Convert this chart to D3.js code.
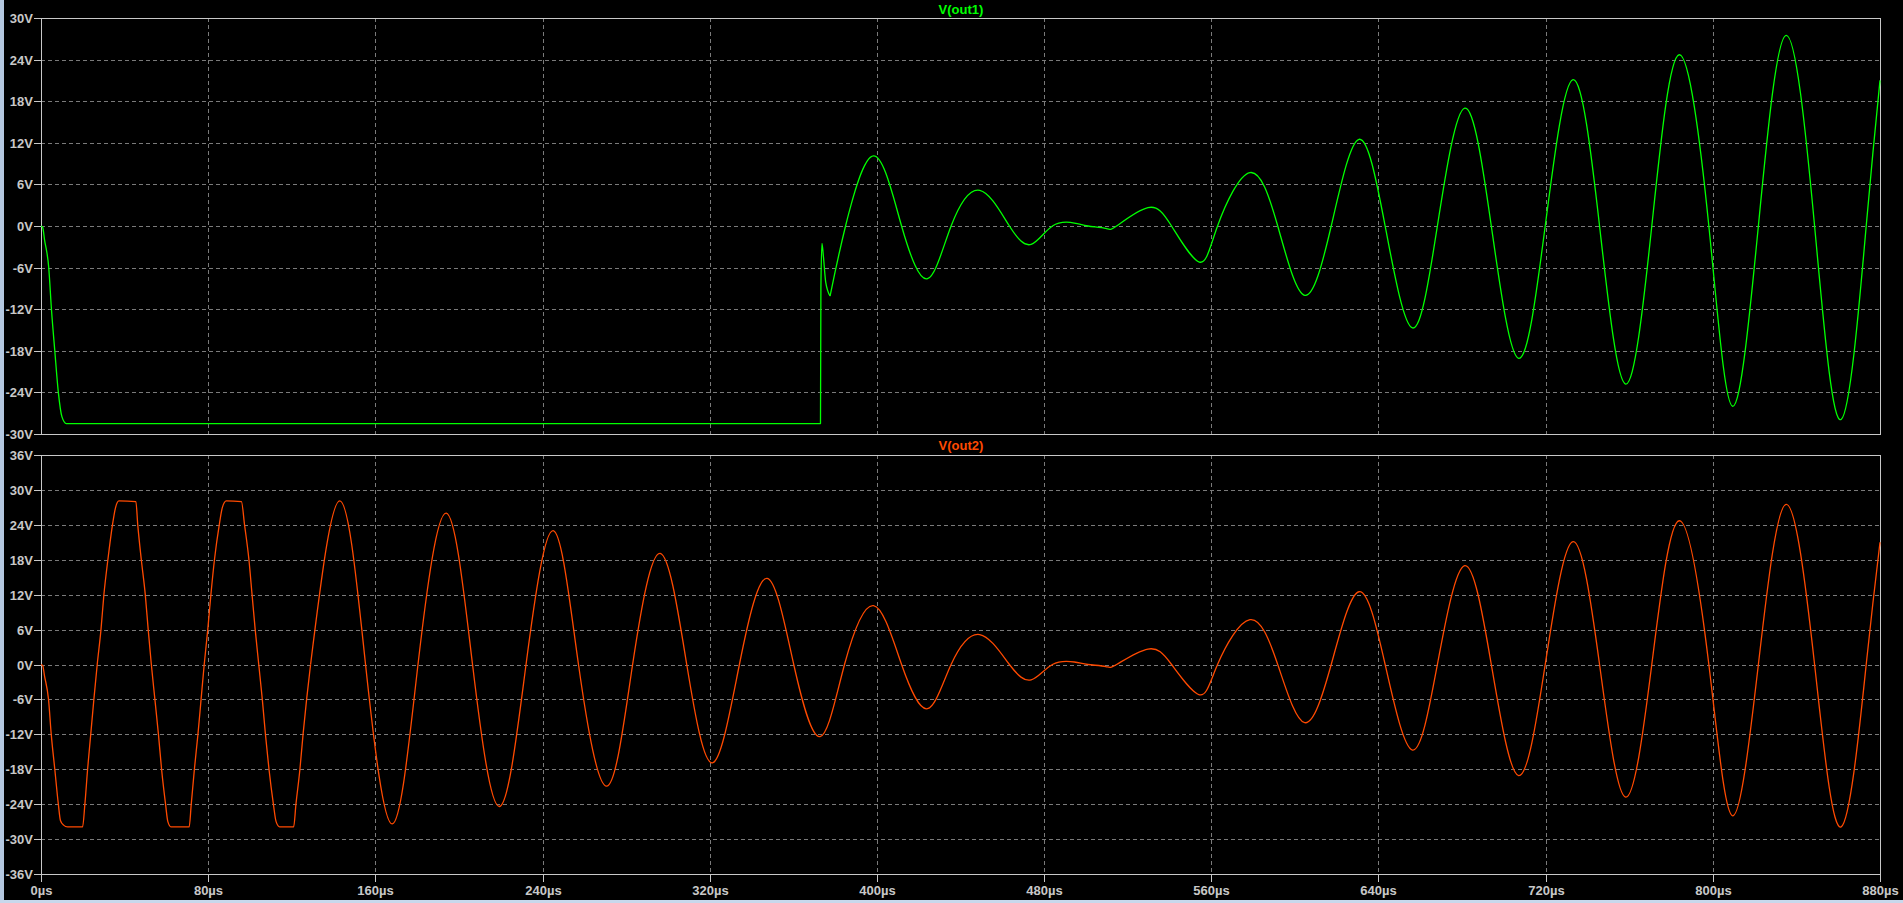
<!DOCTYPE html>
<html><head><meta charset="utf-8">
<script src="https://cdn.jsdelivr.net/npm/d3@7"></script>
<style>html,body{margin:0;padding:0;background:#000;overflow:hidden}</style>
</head><body><svg id="c" width="1903" height="903"></svg>
<script>
// ---- data ----
const timeTicks = [0, 80, 160, 240, 320, 400, 480, 560, 640, 720, 800, 880];
const out1Ticks = [-30, -24, -18, -12, -6, 0, 6, 12, 18, 24, 30];
const out2Ticks = [-36, -30, -24, -18, -12, -6, 0, 6, 12, 18, 24, 30, 36];
const seriesNames = ["V(out1)", "V(out2)"];

// V(out2), clipped start (time µs, volts) – dense samples
const out2ClipTime = [0, 0.8, 1.7, 3.6, 4.9, 6.6, 8.3, 9.3, 10.8, 12.7, 19.9, 21.0, 22.3, 23.8, 25.3, 26.9, 28.7, 30.1, 32.0, 34.2, 35.7, 37.3,
  45.4, 46.3, 48.0, 49.9, 51.3, 52.8, 54.5, 56.2, 57.7, 59.6, 60.7, 62.2, 70.9, 71.9, 73.4, 75.1, 76.6, 78.1, 79.8, 81.3, 83.0, 85.3, 86.8, 88.7,
  95.9, 97.4, 99.5, 101.0, 102.5, 104.2, 105.9, 107.4, 109.1, 111.2, 112.5, 114.2, 120.9, 122.0, 123.9, 125.4, 127.1, 129.0];
const out2ClipVolt = [0, -0.2, -2.0, -6, -12, -18, -24, -26.8, -27.6, -27.9, -27.9, -24, -18, -12, -6, 0, 6, 12, 18, 24, 27.0, 28.1,
  28.0, 24, 18, 12, 6, 0, -6, -12, -18, -24, -27.0, -27.9, -27.9, -24, -18, -12, -6, 0, 6, 12, 18, 24, 27.0, 28.1,
  28.0, 24, 18, 12, 6, 0, -6, -12, -18, -24, -27.0, -27.9, -27.9, -24, -18, -12, -6, 0];

// V(out2), free-running part: extrema and zero crossings
const out2FreeTime = [129.0, 143.0, 155.3, 168.1, 180.4, 193.9, 206.5, 219.4, 232.1, 245.1, 257.2, 270.8, 283.1, 296.3, 309.0, 321.3,
  334.2, 347.5, 360.2, 372.8, 384.5, 398.4, 411.8, 424.2, 435.5, 449.2, 463.4, 473.8, 484.0, 494.5, 501.0, 509.5, 514.7, 529.7,
  541.0, 554.3, 563.0, 578.5, 591.8, 604.7, 617.4, 630.7, 643.2, 656.3, 668.2, 681.3, 694.0, 707.1, 719.8, 733.1, 745.8, 758.3,
  770.8, 783.9, 798.1, 809.5, 821.8, 835.1, 848.7, 861.4, 873.4, 880];
const out2FreeVolt = [0, 28.1, 0, -27.4, 0, 26.0, 0, -24.4, 0, 23.0, 0, -20.9, 0, 19.1, 0, -16.9,
  0, 14.8, 0, -12.4, 0, 10.1, 0, -7.6, 0, 5.15, 0, -2.65, 0, 0.43, 0, -0.35, 0, 2.65,
  0, -5.2, 0, 7.7, 0, -10.0, 0, 12.5, 0, -14.7, 0, 17.0, 0, -19.1, 0, 21.1, 0, -22.8,
  0, 24.7, 0, -26.0, 0, 27.5, 0, -27.9, 0, 21.0];

// V(out1): start-up, hold at -28.5 V, release near 373 µs (dense samples)
const out1HeadTime = [0, 0.8, 1.7, 3.7, 5.0, 6.6, 8.3, 10.0, 12.1, 373.0, 373.2, 373.7, 374.4, 375.5, 377.6];
const out1HeadVolt = [0, -0.2, -2.0, -6, -12, -18, -24, -27.5, -28.5, -28.5, -9.0, -2.5, -4.4, -8.1, -10.1];
// V(out1) after release: first rise, then it coincides with V(out2)
const out1RiseTime = [377.6, 385.0];
const out1RiseVolt = [-10.1, 0];
const out1JoinTime = 395;

// ---- layout ----
const W = 1903, H = 903;
const X0 = 41, X1 = 1880;
const P1 = {top: 18, bottom: 434};
const P2 = {top: 455, bottom: 874};
const AXIS = "#c8c8c8", GRID = "#7a7a7a", TXT = "#c8c8c8";
const GREEN = "#00ff00", ORANGE = "#ff4a00";
const FONT = "'Liberation Sans', Arial, sans-serif";

const svg = d3.select("#c");
svg.append("rect").attr("width", W).attr("height", H).attr("fill", "#000");
svg.append("rect").attr("x", 0).attr("y", 0).attr("width", 4).attr("height", H).attr("fill", "#b4c8e0");
svg.append("rect").attr("x", 0).attr("y", 900).attr("width", W).attr("height", 3).attr("fill", "#c8d8ec");

const x = d3.scaleLinear().domain([0, 880]).range([X0, X1]);
const px = v => Math.round(v) + 0.5;
const zip = (t, v) => t.map((d, i) => [d, v[i]]);

function panel(p, domain, ticks, id) {
  const y = d3.scaleLinear().domain(domain).range([p.bottom, p.top]);
  const g = svg.append("g");
  g.selectAll(".hg").data(ticks.filter(d => d !== domain[0] && d !== domain[1])).enter()
    .append("line").attr("x1", X0).attr("x2", X1)
    .attr("y1", d => px(y(d))).attr("y2", d => px(y(d)))
    .attr("stroke", GRID).attr("stroke-dasharray", "4,3").attr("shape-rendering", "crispEdges");
  g.selectAll(".vg").data(timeTicks.filter(d => d !== 0 && d !== 880)).enter()
    .append("line").attr("y1", p.top).attr("y2", p.bottom)
    .attr("x1", d => px(x(d))).attr("x2", d => px(x(d)))
    .attr("stroke", GRID).attr("stroke-dasharray", "4,3").attr("shape-rendering", "crispEdges");
  g.append("rect").attr("x", X0 + 0.5).attr("y", p.top + 0.5)
    .attr("width", X1 - X0).attr("height", p.bottom - p.top)
    .attr("fill", "none").attr("stroke", AXIS).attr("shape-rendering", "crispEdges");
  g.selectAll(".yt").data(ticks).enter().append("line")
    .attr("x1", 34).attr("x2", X0).attr("y1", d => px(y(d))).attr("y2", d => px(y(d)))
    .attr("stroke", AXIS).attr("shape-rendering", "crispEdges");
  g.selectAll(".yl").data(ticks).enter().append("text")
    .attr("x", 33).attr("y", d => Math.round(y(d)) + 5)
    .attr("text-anchor", "end").attr("fill", TXT)
    .attr("font-family", FONT).attr("font-weight", "bold").attr("font-size", 13)
    .text(d => d + "V");
  svg.append("clipPath").attr("id", id).append("rect")
    .attr("x", X0).attr("y", p.top).attr("width", X1 - X0 + 1).attr("height", p.bottom - p.top + 1);
  return y;
}

function trace(y, id, color, pieces) {
  const g = svg.append("g").attr("clip-path", `url(#${id})`);
  pieces.forEach(([pts, curve]) => {
    const line = d3.line().x(d => x(d[0])).y(d => y(d[1])).curve(curve);
    g.append("path").datum(pts).attr("d", line)
      .attr("fill", "none").attr("stroke", color).attr("stroke-width", 1.3)
      .attr("stroke-linejoin", "round");
  });
}

const y1 = panel(P1, [-30, 30], out1Ticks, "clip1");
const y2 = panel(P2, [-36, 36], out2Ticks, "clip2");

const freePts = zip(out2FreeTime, out2FreeVolt);
trace(y1, "clip1", GREEN, [
  [zip(out1HeadTime, out1HeadVolt), d3.curveMonotoneX],
  [zip(out1RiseTime, out1RiseVolt).concat(freePts.filter(d => d[0] >= out1JoinTime)), d3.curveNatural]
]);
trace(y2, "clip2", ORANGE, [
  [zip(out2ClipTime, out2ClipVolt), d3.curveMonotoneX],
  [freePts, d3.curveNatural]
]);

svg.append("text").attr("x", (X0 + X1) / 2 + 0.5).attr("y", 14).attr("text-anchor", "middle")
  .attr("fill", GREEN).attr("font-family", FONT).attr("font-weight", "bold").attr("font-size", 13)
  .text(seriesNames[0]);
svg.append("text").attr("x", (X0 + X1) / 2 + 0.5).attr("y", 450).attr("text-anchor", "middle")
  .attr("fill", ORANGE).attr("font-family", FONT).attr("font-weight", "bold").attr("font-size", 13)
  .text(seriesNames[1]);

svg.selectAll(".xt").data(timeTicks).enter().append("line")
  .attr("x1", d => px(x(d))).attr("x2", d => px(x(d)))
  .attr("y1", P2.bottom).attr("y2", 882)
  .attr("stroke", AXIS).attr("shape-rendering", "crispEdges");
svg.selectAll(".xl").data(timeTicks).enter().append("text")
  .attr("x", d => Math.round(x(d)) + 0.5).attr("y", 895).attr("text-anchor", "middle")
  .attr("fill", TXT).attr("font-family", FONT).attr("font-weight", "bold").attr("font-size", 13)
  .text(d => d + "µs");
</script>
</body></html>
